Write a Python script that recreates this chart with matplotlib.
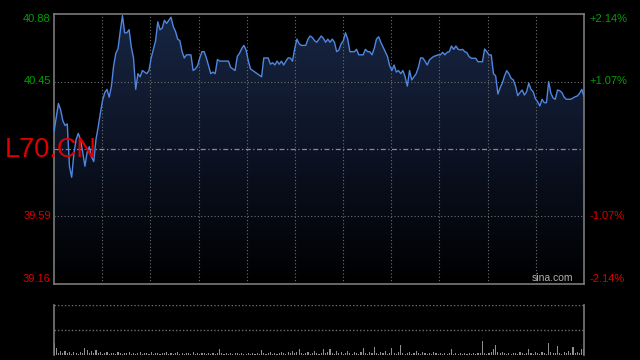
import numpy as np
import matplotlib
matplotlib.use("Agg")
import matplotlib.pyplot as plt
from matplotlib.colors import LinearSegmentedColormap

# ---------------- data ----------------
prev_close = 40.02
y_ticks_left = [40.88, 40.45, 39.59, 39.16]
y_labels_left = ["40.88", "40.45", "39.59", "39.16"]
y_labels_right = ["+2.14%", "+1.07%", "-1.07%", "-2.14%"]
symbol = "L70.CN"
watermark = "sina.com"

prices = [
    40.13, 40.22, 40.31, 40.27, 40.20, 40.17, 40.18, 39.91, 39.84, 39.99,
    40.08, 40.12, 40.08, 40.00, 39.91, 40.00, 40.035, 39.97, 39.94, 40.08,
    40.16, 40.25, 40.33, 40.38, 40.40, 40.35, 40.42, 40.55, 40.63, 40.66,
    40.77, 40.87, 40.76, 40.76, 40.78, 40.67, 40.60, 40.40, 40.50, 40.48,
    40.52, 40.51, 40.50, 40.52, 40.60, 40.655, 40.71, 40.83, 40.78, 40.79,
    40.84, 40.82, 40.84, 40.86, 40.80, 40.77, 40.72, 40.71, 40.64, 40.60,
    40.62, 40.62, 40.62, 40.52, 40.53, 40.55, 40.60, 40.64, 40.64, 40.60,
    40.55, 40.50, 40.51, 40.50, 40.59, 40.58, 40.58, 40.58, 40.58, 40.58,
    40.54, 40.53, 40.52, 40.61, 40.63, 40.66, 40.68, 40.65, 40.58, 40.53,
    40.52, 40.51, 40.50, 40.49, 40.48, 40.60, 40.60, 40.60, 40.56, 40.57,
    40.555, 40.58, 40.56, 40.58, 40.555, 40.58, 40.60, 40.60, 40.58, 40.66,
    40.72, 40.69, 40.68, 40.68, 40.68, 40.72, 40.74, 40.73, 40.71, 40.70,
    40.72, 40.74, 40.725, 40.70, 40.72, 40.70, 40.72, 40.70, 40.64, 40.65,
    40.69, 40.71, 40.76, 40.72, 40.64, 40.64, 40.64, 40.655, 40.62, 40.62,
    40.62, 40.655, 40.64, 40.64, 40.62, 40.66, 40.72, 40.735, 40.70, 40.67,
    40.64, 40.61, 40.55, 40.52, 40.555, 40.51, 40.52, 40.50, 40.52, 40.48,
    40.42, 40.52, 40.46, 40.48, 40.50, 40.54, 40.60, 40.60, 40.58, 40.555,
    40.587, 40.60, 40.61, 40.615, 40.62, 40.62, 40.636, 40.62, 40.636, 40.64,
    40.676, 40.655, 40.676, 40.655, 40.651, 40.655, 40.64, 40.633, 40.608, 40.598,
    40.598, 40.598, 40.576, 40.576, 40.576, 40.657, 40.64, 40.619, 40.619, 40.50,
    40.485, 40.37, 40.41, 40.44, 40.485, 40.519, 40.50, 40.47, 40.46, 40.42,
    40.36, 40.38, 40.396, 40.364, 40.385, 40.439, 40.40, 40.385, 40.34, 40.321,
    40.294, 40.337, 40.315, 40.315, 40.449, 40.375, 40.345, 40.337, 40.396, 40.391,
    40.38, 40.35, 40.337, 40.337, 40.337, 40.345, 40.353, 40.358, 40.375, 40.40,
    40.355,
]

volumes = [
    12, 7, 2, 4, 2, 4, 2, 3, 1, 3, 2, 1, 3, 2, 7, 5, 2, 4, 2, 5,
    2, 3, 1, 2, 3, 1, 2, 2, 1, 3, 2, 1, 2, 2, 3, 1, 2, 1, 2, 3,
    1, 2, 2, 1, 3, 1, 2, 2, 1, 2, 2, 3, 1, 2, 1, 2, 3, 1, 2, 1,
    2, 2, 1, 3, 1, 2, 1, 2, 2, 1, 2, 1, 2, 1, 2, 6, 2, 1, 2, 1,
    2, 1, 2, 2, 1, 2, 1, 1, 2, 1, 2, 1, 2, 1, 5, 2, 1, 2, 3, 1,
    2, 1, 2, 3, 2, 1, 3, 2, 4, 2, 3, 6, 2, 1, 2, 3, 1, 2, 4, 2,
    1, 2, 6, 2, 3, 6, 2, 1, 4, 2, 3, 1, 2, 4, 2, 1, 3, 2, 1, 3,
    7, 2, 1, 3, 2, 8, 2, 1, 3, 2, 4, 1, 2, 7, 2, 1, 3, 10, 2, 1,
    2, 3, 1, 2, 4, 2, 1, 3, 2, 1, 2, 1, 3, 2, 1, 2, 1, 2, 1, 2,
    6, 1, 2, 1, 2, 1, 2, 1, 2, 1, 2, 1, 2, 2, 14, 2, 1, 2, 3, 6,
    10, 3, 2, 3, 2, 1, 2, 1, 2, 2, 1, 3, 2, 1, 2, 6, 2, 1, 3, 2,
    1, 3, 2, 1, 12, 3, 2, 2, 9, 2, 1, 3, 2, 4, 2, 8, 2, 3, 2, 6,
    6,
]

# ---------------- figure ----------------
BG = "#000000"
GRID = "#6e6e6e"
FRAME = "#7a7a7a"
GREEN = "#00a000"
RED = "#d80000"
LINE = "#4f86e0"

plt.rcParams["font.family"] = ["Liberation Sans", "DejaVu Sans"]

fig = plt.figure(figsize=(6.4, 3.6), dpi=100, facecolor=BG)
ax = fig.add_axes([54 / 640, 1 - 284 / 360, 530 / 640, 270 / 360], facecolor=BG)
axv = fig.add_axes([54 / 640, 1 - 355 / 360, 530 / 640, 50 / 360], facecolor=BG)

n = len(prices)
x = np.arange(n)
ymin, ymax = y_ticks_left[-1], y_ticks_left[0]

ax.set_xlim(0, n - 1)
ax.set_ylim(ymin, ymax)

# gradient area fill
cmap = LinearSegmentedColormap.from_list("g", ["#000000", "#0c1324", "#182643"])
grad = np.linspace(0, 1, 256).reshape(-1, 1)
poly = ax.fill_between(x, prices, ymin, facecolor="none", edgecolor="none")
im = ax.imshow(grad, extent=[0, n - 1, ymin, ymax], origin="lower", aspect="auto",
               cmap=cmap, zorder=1)
im.set_clip_path(poly.get_paths()[0], transform=ax.transData)

ax.plot(x, prices, color=LINE, lw=1.0, zorder=4)

# grid
for k in range(1, 11):
    ax.axvline((n - 1) * k / 11, color=GRID, lw=0.8, ls=(0, (1, 2)), zorder=2)
for v in [y_ticks_left[1], y_ticks_left[2]]:
    ax.axhline(v, color=GRID, lw=0.8, ls=(0, (1, 2)), zorder=2)
ax.axhline(prev_close, color="#8a8a8a", lw=0.9, ls=(0, (4, 2, 1, 2)), zorder=2)

for s in ax.spines.values():
    s.set_color(FRAME)
    s.set_linewidth(1.2)
ax.set_xticks([])
ax.set_yticks([])

# axis labels
trans_l = ax.get_yaxis_transform()
cols = [GREEN, GREEN, RED, RED]
vas = ["top", "center", "center", "bottom"]
for v, lab, lab_r, c, va in zip(y_ticks_left, y_labels_left, y_labels_right, cols, vas):
    ax.text(-0.006, v, lab, transform=trans_l, ha="right", va=va, color=c, fontsize=8)
    ax.text(1.011, v, lab_r, transform=trans_l, ha="left", va=va, color=c, fontsize=8)

fig.text(5 / 640, 1 - 150 / 360, symbol, color="#e00000", fontsize=19.5,
         ha="left", va="center")
ax.text(0.979, 0.005, watermark, transform=ax.transAxes, ha="right", va="bottom",
        color="#b0b0b0", fontsize=7.5)

# volume panel
axv.set_xlim(0, n - 1)
axv.set_ylim(0, 50)
axv.bar(x, volumes, width=0.5, color="#909090", align="center")
axv.axhline(50, color=GRID, lw=1.0, ls=(0, (1, 1.5)))
axv.axhline(25, color=GRID, lw=1.0, ls=(0, (1, 1.5)))
for side in ["top", "bottom"]:
    axv.spines[side].set_visible(False)
for side in ["left", "right"]:
    axv.spines[side].set_color(FRAME)
    axv.spines[side].set_linewidth(1.2)
axv.set_xticks([])
axv.set_yticks([])

fig.savefig("out.png", dpi=100, facecolor=BG)
